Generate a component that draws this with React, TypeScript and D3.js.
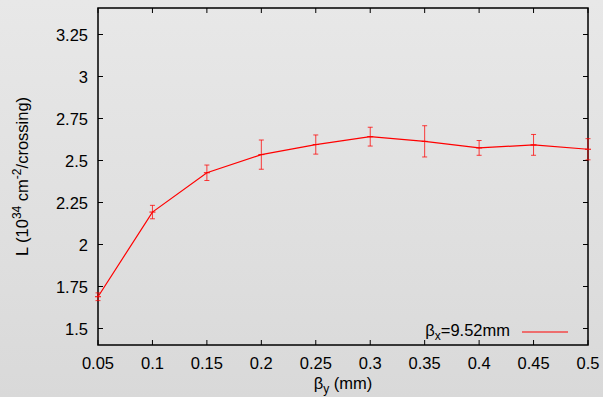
import { useEffect, useRef } from 'react';
import * as d3 from 'd3';

// beta_y (mm) and luminosity (10^34 cm^-2/crossing) with errors
const betaY = [0.05, 0.1, 0.15, 0.2, 0.25, 0.3, 0.35, 0.4, 0.45, 0.5];
const lumi = [1.689, 2.193, 2.427, 2.535, 2.595, 2.642, 2.614, 2.575, 2.593, 2.567];
const lumiErr = [0.023, 0.04, 0.046, 0.087, 0.057, 0.056, 0.093, 0.044, 0.062, 0.063];

const xTicks = [0.05, 0.1, 0.15, 0.2, 0.25, 0.3, 0.35, 0.4, 0.45, 0.5];
const yTicks = [1.5, 1.75, 2, 2.25, 2.5, 2.75, 3, 3.25];
const legendLabel = '9.52mm';

export default function App() {
  const svgRef = useRef<SVGSVGElement>(null);

  useEffect(() => {
    if (!svgRef.current) return;
    const svg = d3.select(svgRef.current);
    svg.selectAll('*').remove();

    const width = 603;
    const height = 397;
    const left = 98;
    const right = 588;
    const top = 8;
    const bottom = 345;
    const font = '"Liberation Sans", Arial, Helvetica, sans-serif';
    const fs = '16.5px';
    const fsSmall = '12px';

    // background gradient
    const defs = svg.append('defs');
    const grad = defs
      .append('linearGradient')
      .attr('id', 'bg')
      .attr('x1', 0)
      .attr('y1', 0)
      .attr('x2', 0)
      .attr('y2', 1);
    grad.append('stop').attr('offset', '0%').attr('stop-color', '#e8e8e8');
    grad.append('stop').attr('offset', '100%').attr('stop-color', '#d9d9d9');
    svg.append('rect').attr('width', width).attr('height', height).attr('fill', 'url(#bg)');

    const x = d3.scaleLinear().domain([0.05, 0.5]).range([left, right]);
    const y = d3.scaleLinear().domain([1.5, 3.25]).range([328.5, 34.5]);

    const g = svg.append('g');
    const tickLen = 5;

    // ticks on all four sides
    g.selectAll('line.xt')
      .data(xTicks)
      .enter()
      .append('line')
      .attr('x1', (d) => x(d))
      .attr('x2', (d) => x(d))
      .attr('y1', bottom)
      .attr('y2', bottom - tickLen)
      .attr('stroke', '#000');
    g.selectAll('line.xtt')
      .data(xTicks)
      .enter()
      .append('line')
      .attr('x1', (d) => x(d))
      .attr('x2', (d) => x(d))
      .attr('y1', top)
      .attr('y2', top + tickLen)
      .attr('stroke', '#000');
    g.selectAll('line.yt')
      .data(yTicks)
      .enter()
      .append('line')
      .attr('x1', left)
      .attr('x2', left + tickLen)
      .attr('y1', (d) => y(d))
      .attr('y2', (d) => y(d))
      .attr('stroke', '#000');
    g.selectAll('line.ytr')
      .data(yTicks)
      .enter()
      .append('line')
      .attr('x1', right)
      .attr('x2', right - tickLen)
      .attr('y1', (d) => y(d))
      .attr('y2', (d) => y(d))
      .attr('stroke', '#000');

    // frame
    g.append('rect')
      .attr('x', left)
      .attr('y', top)
      .attr('width', right - left)
      .attr('height', bottom - top)
      .attr('fill', 'none')
      .attr('stroke', '#000')
      .attr('stroke-width', 1.5);

    // tick labels
    g.selectAll('text.xl')
      .data(xTicks)
      .enter()
      .append('text')
      .attr('x', (d) => x(d))
      .attr('y', 369)
      .attr('text-anchor', 'middle')
      .style('font-family', font)
      .style('font-size', fs)
      .style('fill', '#000')
      .text((d) => String(d));
    g.selectAll('text.yl')
      .data(yTicks)
      .enter()
      .append('text')
      .attr('x', 88)
      .attr('y', (d) => y(d) + 6.5)
      .attr('text-anchor', 'end')
      .style('font-family', font)
      .style('font-size', fs)
      .style('fill', '#000')
      .text((d) => String(d));

    // axis titles
    const xt = g
      .append('text')
      .attr('x', (left + right) / 2)
      .attr('y', 389)
      .attr('text-anchor', 'middle')
      .style('font-family', font)
      .style('font-size', fs)
      .style('fill', '#000');
    xt.append('tspan').text('β');
    xt.append('tspan').attr('dy', 4).style('font-size', fsSmall).text('y');
    xt.append('tspan').attr('dy', -4).text(' (mm)');

    const yt = g
      .append('text')
      .attr('transform', `translate(28,${(top + bottom) / 2}) rotate(-90)`)
      .attr('text-anchor', 'middle')
      .style('font-family', font)
      .style('font-size', fs)
      .style('fill', '#000');
    yt.append('tspan').text('L (10');
    yt.append('tspan').attr('dy', -7).style('font-size', fsSmall).text('34');
    yt.append('tspan').attr('dy', 7).text(' cm');
    yt.append('tspan').attr('dy', -7).style('font-size', fsSmall).text('-2');
    yt.append('tspan').attr('dy', 7).text('/crossing)');

    // error bars
    const cap = 2.5;
    const eb = g.append('g').attr('stroke', '#ff0000').attr('stroke-opacity', 0.75);
    betaY.forEach((b, i) => {
      const cx = x(b);
      const y0 = y(lumi[i] - lumiErr[i]);
      const y1 = y(lumi[i] + lumiErr[i]);
      eb.append('line').attr('x1', cx).attr('x2', cx).attr('y1', y0).attr('y2', y1);
      eb.append('line').attr('x1', cx - cap).attr('x2', cx + cap).attr('y1', y0).attr('y2', y0);
      eb.append('line').attr('x1', cx - cap).attr('x2', cx + cap).attr('y1', y1).attr('y2', y1);
    });

    // line
    const line = d3
      .line<number>()
      .x((d, i) => x(betaY[i]))
      .y((d) => y(d));
    g.append('path')
      .datum(lumi)
      .attr('fill', 'none')
      .attr('stroke', '#ff0000')
      .attr('stroke-width', 1.2)
      .attr('d', line);

    // point markers (+)
    betaY.forEach((b, i) => {
      const cx = x(b);
      const cy = y(lumi[i]);
      g.append('line')
        .attr('x1', cx - 3)
        .attr('x2', cx + 3)
        .attr('y1', cy)
        .attr('y2', cy)
        .attr('stroke', '#ff0000');
    });

    // legend
    const lt = g
      .append('text')
      .attr('x', 510)
      .attr('y', 336)
      .attr('text-anchor', 'end')
      .style('font-family', font)
      .style('font-size', fs)
      .style('fill', '#000');
    lt.append('tspan').text('β');
    lt.append('tspan').attr('dy', 4).style('font-size', fsSmall).text('x');
    lt.append('tspan').attr('dy', -4).text('=' + legendLabel);
    g.append('line')
      .attr('x1', 522)
      .attr('x2', 568)
      .attr('y1', 332)
      .attr('y2', 332)
      .attr('stroke', '#ff0000')
      .attr('stroke-width', 1.2);

    return () => {
      svg.selectAll('*').remove();
    };
  }, []);

  return (
    <div style={{ position: 'absolute', left: 0, top: 0 }}>
      <svg ref={svgRef} width={603} height={397} style={{ display: 'block' }} />
    </div>
  );
}
